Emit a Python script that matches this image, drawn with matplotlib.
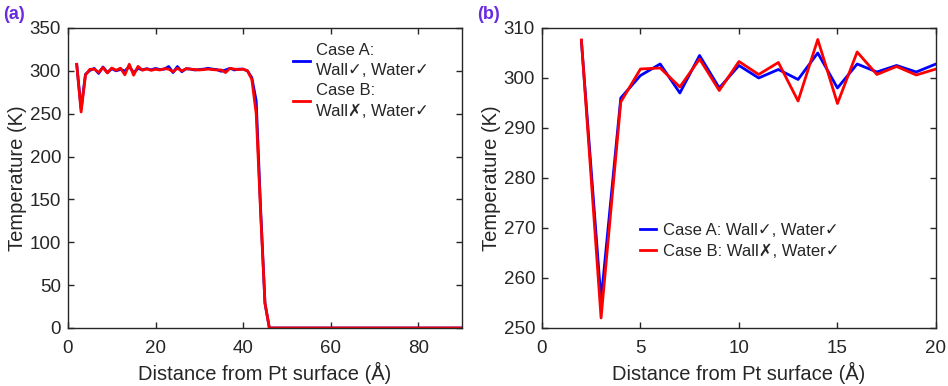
import matplotlib
matplotlib.use('Agg')
import matplotlib.pyplot as plt
import numpy as np

plt.rcParams['font.family'] = ['Liberation Sans', 'DejaVu Sans']
plt.rcParams['font.size'] = 12
plt.rcParams['text.color'] = '#262626'

# distance from Pt surface (A), one point per angstrom
dist = list(range(2, 91))

# case A: wall on, water on
temp_a = [307.5, 255.5, 296.0, 300.5, 302.8, 297.0, 304.5, 298.0, 302.5, 300.0,
          301.7, 299.7, 305.0, 298.0, 302.8, 301.2, 302.5, 301.2, 302.8,
          301.5, 302.0, 305.0, 298.0, 305.0, 299.0, 302.5, 302.0, 301.0, 301.5,
          302.0, 303.0, 302.0, 301.5, 299.5, 301.0, 303.0, 301.0, 302.0, 302.0,
          300.0, 292.0, 265.0, 140.0, 29.0] + [0.0] * 45
# case B: wall off, water on
temp_b = [307.6, 252.0, 295.2, 301.8, 302.0, 298.2, 303.8, 297.5, 303.3, 300.7,
          303.1, 295.4, 307.7, 294.9, 305.2, 300.7, 302.3, 300.6, 301.8,
          301.0, 302.5, 302.0, 299.0, 303.0, 300.0, 302.5, 302.0, 301.5, 301.0,
          301.5, 302.0, 301.5, 301.0, 301.0, 298.0, 303.0, 302.0, 301.5, 302.0,
          300.0, 290.0, 250.0, 135.0, 29.0] + [0.0] * 45

label_a = 'Case A:\nWall\u2713, Water\u2713'
label_b = 'Case B:\nWall\u2717, Water\u2713'
label_a2 = 'Case A: Wall\u2713, Water\u2713'
label_b2 = 'Case B: Wall\u2717, Water\u2713'

dark = '#262626'
fig = plt.figure(figsize=(9.48, 3.86), dpi=100)
ax1 = fig.add_axes([0.0717, 0.1503, 0.4156, 0.7772])
ax2 = fig.add_axes([0.5717, 0.1503, 0.4156, 0.7772])

for ax in (ax1, ax2):
    ax.plot(dist, temp_a, color='#0000ff', lw=2)
    ax.plot(dist, temp_b, color='#ff0000', lw=2)
    ax.tick_params(direction='in', top=True, right=True, length=4,
                   width=1, colors=dark, labelsize=13.5)
    ax.tick_params(axis='x', pad=9)
    ax.tick_params(axis='y', pad=5)
    for s in ax.spines.values():
        s.set_color(dark)
        s.set_linewidth(1)
    ax.set_xlabel('Distance from Pt surface (\u00c5)', fontsize=14.5, color=dark, labelpad=3)
    ax.set_ylabel('Temperature (K)', fontsize=14.5, color=dark, labelpad=2)

ax1.lines[0].set_label(label_a)
ax1.lines[1].set_label(label_b)
ax1.set_xlim(0, 90)
ax1.set_ylim(0, 350)
ax1.set_xticks(np.arange(0, 81, 20))
ax1.set_yticks(np.arange(0, 351, 50))
leg1 = ax1.legend(loc='upper right', bbox_to_anchor=(0.955, 1.0), frameon=False,
                  fontsize=12, handlelength=1.0, handletextpad=0.4, labelspacing=0.3)
for t in leg1.get_texts():
    t.set_linespacing(1.45)

ax2.lines[0].set_label(label_a2)
ax2.lines[1].set_label(label_b2)
ax2.set_xlim(0, 20)
ax2.set_ylim(250, 310)
ax2.set_xticks(np.arange(0, 21, 5))
ax2.set_yticks(np.arange(250, 311, 10))
ax2.legend(loc='center left', bbox_to_anchor=(0.21, 0.29), frameon=False,
           fontsize=12, handlelength=1.0, handletextpad=0.4, labelspacing=0.35)

fig.text(0.003, 0.962, '(a)', color='#6a2be0', fontsize=13, fontweight='bold', va='center')
fig.text(0.503, 0.962, '(b)', color='#6a2be0', fontsize=13, fontweight='bold', va='center')

fig.savefig('out.png', dpi=100)
